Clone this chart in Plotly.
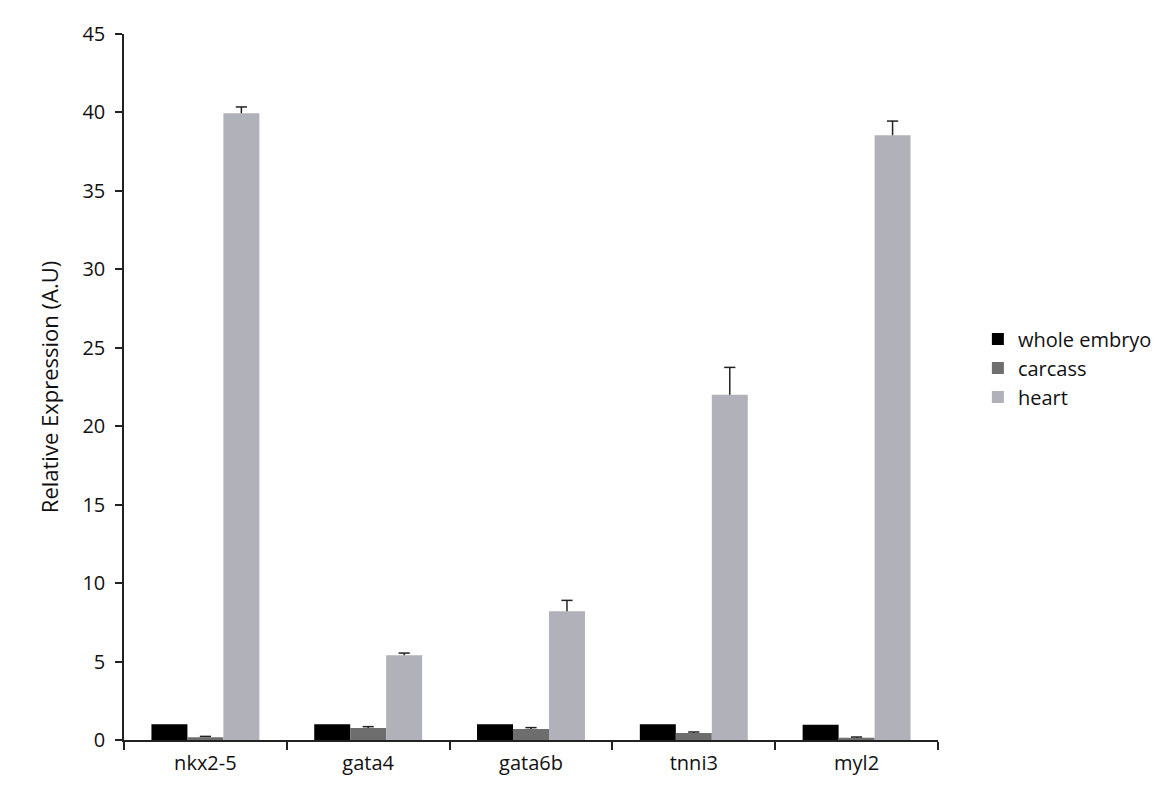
import plotly.graph_objects as go

genes = ["nkx2-5", "gata4", "gata6b", "tnni3", "myl2"]
whole_embryo = [1.0, 1.0, 1.0, 1.0, 0.97]
whole_embryo_err = [0, 0, 0, 0, 0]
carcass = [0.18, 0.76, 0.7, 0.45, 0.14]
carcass_err = [0.05, 0.09, 0.09, 0.06, 0.05]
heart = [39.95, 5.4, 8.2, 22.0, 38.55]
heart_err = [0.4, 0.14, 0.7, 1.75, 0.9]

series = [
    ("whole embryo", whole_embryo, whole_embryo_err, "#000000", False),
    ("carcass", carcass, carcass_err, "#6e6e6e", True),
    ("heart", heart, heart_err, "#b1b1b9", True),
]

fig = go.Figure()
for name, vals, errs, color, has_err in series:
    fig.add_trace(go.Bar(
        name=name, x=genes, y=vals, offsetgroup=name,
        marker=dict(color=color, line=dict(width=0)),
    ))

# upward-only error bars: whisker drawn down from the top, cap as a marker
for name, vals, errs, color, has_err in series:
    tops = [v + e for v, e in zip(vals, errs)]
    fig.add_trace(go.Scatter(
        x=genes, y=tops, mode="markers", offsetgroup=name, showlegend=False,
        hoverinfo="skip",
        marker=dict(symbol="line-ew", size=8, opacity=1 if has_err else 0,
                    line=dict(color="#222222", width=1.5)),
        error_y=dict(type="data", symmetric=False, array=[0] * len(errs),
                     arrayminus=errs, color="#222222", thickness=1.5,
                     width=0, visible=has_err),
    ))

fig.update_layout(
    width=1176, height=790,
    barmode="group", bargap=0.337, bargroupgap=0,
    scattermode="group", scattergap=0.337,
    plot_bgcolor="white", paper_bgcolor="white",
    margin=dict(l=116, r=246, t=24, b=58),
    font=dict(family="Open Sans, DejaVu Sans, sans-serif", size=20, color="#111111"),
    legend=dict(x=1.049, y=0.527, xanchor="left", yanchor="middle",
                font=dict(size=20), tracegroupgap=0),
    showlegend=True,
)
fig.update_xaxes(
    showline=True, linecolor="#222222", linewidth=1.5,
    ticks="outside", tickson="boundaries", ticklen=8, tickwidth=1.5,
    tickcolor="#222222", showgrid=False, tickfont=dict(size=20),
    ticklabelstandoff=4,
)
fig.update_yaxes(
    range=[0, 45], dtick=5, showline=True, linecolor="#222222", linewidth=1.5,
    ticks="outside", ticklen=7, tickwidth=1.5, tickcolor="#222222",
    showgrid=False, zeroline=False, tickfont=dict(size=20),
    ticklabelstandoff=6,
    title=dict(text="Relative Expression (A.U)", font=dict(size=22), standoff=18),
)

fig.write_html("out.html")
